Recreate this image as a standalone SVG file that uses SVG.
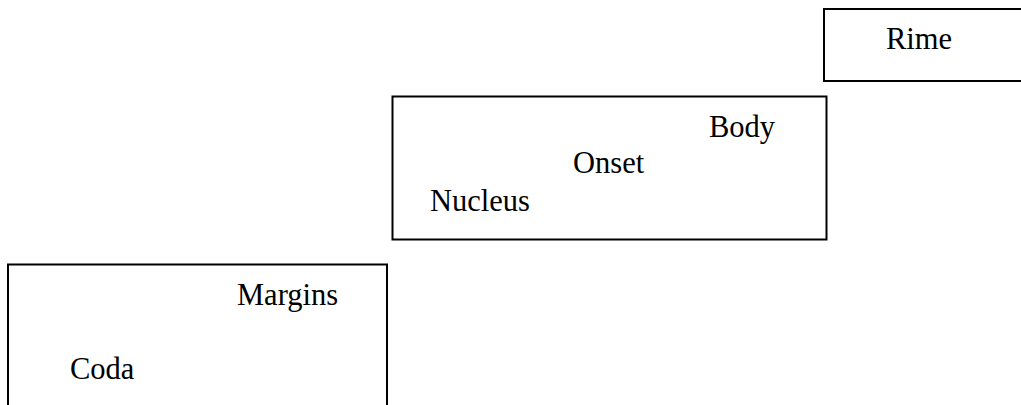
<svg xmlns="http://www.w3.org/2000/svg" width="1021" height="405" viewBox="0 0 1021 405">
<style>
.box{fill:#fff;stroke:#000;stroke-width:2}
.t{font-family:"Liberation Serif","Times New Roman",serif;font-size:30.5px;fill:#000}
</style>
<rect x="0" y="0" width="1021" height="405" fill="#fff"/>
<g id="connectors"></g>
<g id="rime">
<rect class="box" x="824" y="9" width="220" height="72"/>
<text class="t" x="886" y="49">Rime</text>
</g>
<g id="body">
<rect class="box" x="392.5" y="96.5" width="434" height="143"/>
<text class="t" x="709" y="137">Body</text>
<text class="t" x="573" y="173">Onset</text>
<text class="t" x="430" y="211">Nucleus</text>
</g>
<g id="margins">
<rect class="box" x="8" y="264.5" width="379" height="170"/>
<text class="t" x="237" y="305">Margins</text>
<text class="t" x="70" y="379">Coda</text>
</g>
</svg>
